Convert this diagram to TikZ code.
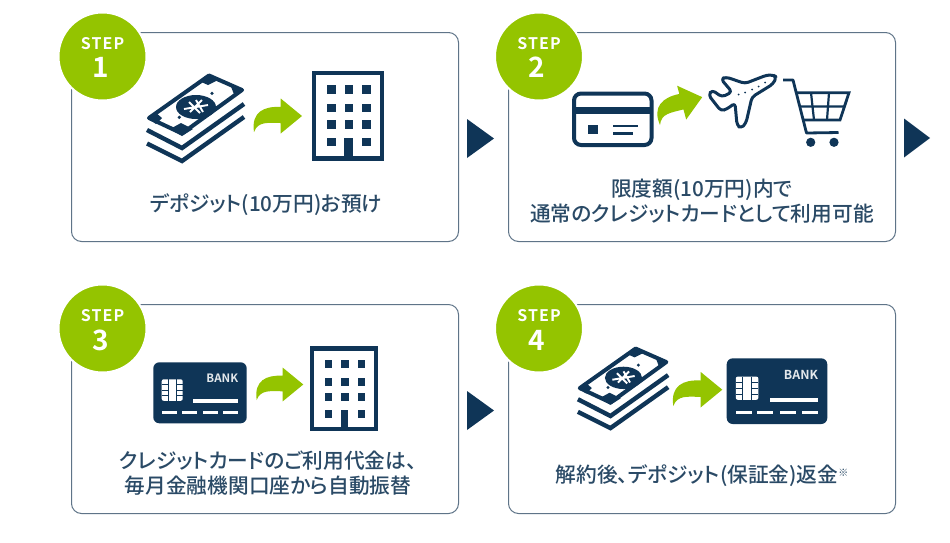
\documentclass[tikz,border=0pt]{standalone}
\usepackage{fontspec}
\setmainfont{Noto Sans CJK JP Medium}[RawFeature=+palt]
\newfontfamily\latinb{Noto Sans CJK JP}[BoldFont={Noto Sans CJK JP Bold}]
\usetikzlibrary{shapes.geometric}
\definecolor{navy}{HTML}{0F3557}
\definecolor{leaf}{HTML}{94C400}
\definecolor{edge}{HTML}{5F7488}
\definecolor{ink}{HTML}{2A4A66}
\tikzset{
  card/.style={draw=edge,line width=1pt,rounded corners=10pt,fill=white},
  badge/.style={circle,fill=leaf,draw=white,line width=2pt,minimum size=88pt,inner sep=0pt},
  steplabel/.style={text=white,font=\latinb\bfseries\fontsize{16}{16}\selectfont,inner sep=0pt},
  stepnum/.style={text=white,font=\latinb\bfseries\fontsize{28}{28}\selectfont,inner sep=0pt},
  caption/.style={text=ink,font=\fontsize{20.7}{25}\selectfont,align=center,inner sep=0pt},
  nextmark/.style={fill=navy},
  navyline/.style={draw=navy,line width=#1},
  navyline/.default=4pt
}
\newcommand{\moneyicon}[3]{\begin{scope}[shift={(#1,#2)},scale=#3]
  \draw[navyline=4.4pt,line join=miter] (-49,25) -- (-14,43) -- (48,-1);
  \draw[navyline=4.4pt,line join=miter] (-49,38.5) -- (-14,56) -- (48,12);
  \draw[navyline=4pt,fill=white,line join=round] (-47,13) -- (13,-29.5) -- (46,-15) -- (-14,28.5) -- cycle;
  \fill[navy] (3,-24) -- (13,-31) -- (24,-26) -- (12,-20) -- cycle;
  \fill[navy] (34,-21) -- (48,-15) -- (39,-8) -- cycle;
  \fill[navy] (-48,13) -- (-41,7) -- (-34,13) -- (-40,19) -- cycle;
  \fill[navy] (-26,24) -- (-14,31) -- (-3,24) -- (-15,18) -- cycle;
  \fill[navy] (0,2) ellipse [x radius=20,y radius=12];
  \fill[navy] (-16.7,12.3) circle (1.8);
  \fill[navy] (16,-11.7) circle (1.8);
  \draw[white,line width=1.9pt] (-12,4) -- (12,0) (-7,-3) -- (4,8) (0,-5) -- (7,7) (-6,7) -- (6,-5);
\end{scope}}
\newcommand{\towericon}[3]{\begin{scope}[shift={(#1,#2)},scale=#3]
  \draw[navyline=4.5pt,line join=miter] (2,2) rectangle (68,85);
  \foreach \cx in {15,32,49} \foreach \cy in {14,32,48}
    \fill[navy] (\cx,\cy) rectangle ++(8,8);
  \foreach \cx in {15,49} \fill[navy] (\cx,65) rectangle ++(8,8);
  \fill[navy] (31.5,65) rectangle (39.5,86);
\end{scope}}
\newcommand{\greenarrow}[4]{\begin{scope}[shift={(#1,#2)},rotate=#3,scale=#4]
  \fill[leaf] (48,-16) -- (26.7,-33.5) -- (26.7,-25) .. controls (10,-26) and (-3,-20) .. (0,0)
   .. controls (4,-11) and (14,-9) .. (26.7,-9) -- (26.7,1.5) -- cycle;
\end{scope}}
\newcommand{\bankicon}[3]{\begin{scope}[shift={(#1,#2)},scale=#3]
  \fill[navy,rounded corners=6pt] (0,0) rectangle (93.4,61);
  \node[text=white!88!navy,inner sep=0pt,font=\latinb\bfseries\fontsize{\fpeval{11.5*#3}}{12}\selectfont] at (69,15.5) {BANK};
  \fill[white,rounded corners=2pt] (8.4,17) rectangle (29.4,38.5);
  \draw[navy,line width=1pt] (8.4,22) -- (15,22) (8.4,27.7) -- (15,27.7) (8.4,33.4) -- (15,33.4)
    (23,22) -- (29.4,22) (23,27.7) -- (29.4,27.7) (23,33.4) -- (29.4,33.4);
  \draw[navy,line width=1.2pt] (15,38.5) -- (15,17) (23,38.5) -- (23,17);
  \fill[white] (40,36.7) rectangle (85,41);
  \foreach \dx in {8.4,28.4,49.4,70} \fill[white] (\dx,48.8) rectangle ++(15,2.6);
\end{scope}}
\begin{document}
\begin{tikzpicture}[x=1pt,y=-1pt]
\useasboundingbox (0,0) rectangle (950,542);
\fill[white] (0,0) rectangle (950,542);
% boxes
\node[card,minimum width=387pt,minimum height=209pt,anchor=north west,inner sep=0pt] (box1) at (71,32) {};
\node[card,minimum width=387pt,minimum height=209pt,anchor=north west,inner sep=0pt] (box2) at (508,32) {};
\node[card,minimum width=387pt,minimum height=209pt,anchor=north west,inner sep=0pt] (box3) at (71,304) {};
\node[card,minimum width=387pt,minimum height=209pt,anchor=north west,inner sep=0pt] (box4) at (508,304) {};
% badges
\node[badge] (b1) at (102.5,56.5) {};
\node[badge] (b2) at (539,56.5) {};
\node[badge] (b3) at (102.5,328.5) {};
\node[badge] (b4) at (539,328.5) {};
\node[steplabel] (s1) at (102.5,43.5) {S\kern1pt T\kern1pt E\kern1pt P};
\node[steplabel] (s2) at (539,43.5) {S\kern1pt T\kern1pt E\kern1pt P};
\node[steplabel] (s3) at (102.5,315.5) {S\kern1pt T\kern1pt E\kern1pt P};
\node[steplabel] (s4) at (539,315.5) {S\kern1pt T\kern1pt E\kern1pt P};
\node[stepnum] (n1) at (100.5,67) {1};
\node[stepnum] (n2) at (537,67) {2};
\node[stepnum] (n3) at (100.5,340) {3};
\node[stepnum] (n4) at (537,340) {4};
% step 1
\moneyicon{196}{105}{1}
\greenarrow{254}{132}{0}{1}
\towericon{312}{71}{1.03}
\node[caption] (t1) at (266,204.5) {デポジット(10万円)お預け};
% step 2
\draw[navyline=4pt,rounded corners=7pt] (574,93.5) rectangle (651.5,145);
\fill[navy] (574,107) rectangle (651.5,114);
\fill[navy] (588,125) rectangle (598,134.3);
\draw[navyline=2.6pt] (613,126) -- (638,126) (613,133.3) -- (633,133.3);
\greenarrow{660}{125}{15}{1}
\draw[navyline=3pt,fill=white,rounded corners=3.5pt,line join=round]
  (767,75) -- (745,83.5) -- (726,77) -- (721,79) -- (732,92) -- (722,97) -- (712,90) -- (708.5,95) -- (721,111) -- (727,109) -- (735,103)
  -- (737,125) -- (741,128.5) -- (746,123) -- (752,97) -- (773,84) -- (776.5,77) -- (773,75) -- cycle;
\foreach \px/\py in {738.5/94.5,745/92.5,752/89.5,758.5/86.5,765/82.5} \fill[navy] (\px,\py) circle (1);
\draw[navyline=2.8pt,line join=round] (783,80) -- (793,80) -- (806.5,133) -- (838.5,132.5);
\draw[navyline=2.8pt,line join=miter] (796,92.7) -- (849,92.7) -- (840,120) -- (802.5,120);
\draw[navyline=2.2pt] (799.5,106.5) -- (844.5,106.5) (811,92.7) -- (814,120) (829,92.7) -- (827,120);
\fill[navy] (810.7,142.3) circle (4.6) (834,142.3) circle (4.6);
\node[caption] (t2) at (702,201) {限度額(10万円)内で\\通常のクレジットカードとして利用可能};
% step 3
\bankicon{153.3}{362.3}{1}
\greenarrow{256.7}{400}{0}{.97}
\towericon{310}{346.7}{.97}
\node[caption] (t3) at (268,473.5) {クレジットカードのご利用代金は、\\毎月金融機関口座から自動振替};
% step 4
\moneyicon{623.5}{376}{.93}
\greenarrow{673.3}{406}{0}{1.02}
\bankicon{726.7}{358.3}{1.077}
\node[caption] (t4) at (702,476) {解約後、デポジット(保証金)返金\raisebox{6pt}{\fontsize{10}{10}\selectfont ※}};
% next marks
\fill[nextmark] (467,119) -- (494,138.5) -- (467,158) -- cycle;
\fill[nextmark] (904,118.5) -- (930,138) -- (904,157.5) -- cycle;
\fill[nextmark] (467,391) -- (494,410.5) -- (467,430) -- cycle;
\end{tikzpicture}
\end{document}
